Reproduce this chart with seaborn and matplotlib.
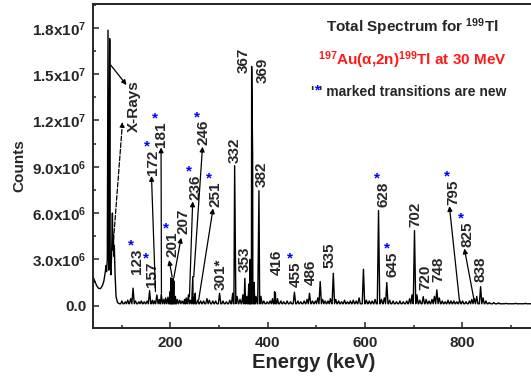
import numpy as np
import pandas as pd
import matplotlib
matplotlib.use("Agg")
import matplotlib.pyplot as plt
from matplotlib.ticker import MultipleLocator, FuncFormatter
import seaborn as sns

# X-ray region, read point by point (keV, counts in units of 1e6)
xray_energy = [41, 44, 48, 52, 56, 60, 63, 65.5, 67.5, 68.5, 70, 71.5, 73, 74, 75,
               76, 77.5, 79, 80.5, 81.5, 82.5, 83.5, 84.5, 86, 88, 91, 95]
xray_counts = [1.85, 1.6, 1.3, 1.12, 1.1, 1.3, 1.6, 2.1, 2.6, 2.2, 3.0, 17.85, 2.3, 3.0, 17.3,
               2.6, 2.0, 3.5, 6.0, 3.6, 4.6, 3.2, 3.9, 2.0, 0.6, 0.2, 0.12]

# gamma lines and small background bumps above the X-rays (keV, counts in 1e6)
peak_energy = [100, 107, 112, 118, 123, 128, 135, 140, 146, 152, 157, 163, 167, 172, 177,
               181, 186, 190, 195, 199, 201, 203, 205, 207, 210, 214, 219, 224, 229, 232,
               237, 241, 246, 249, 251, 256, 262, 268, 275, 280, 287, 293, 301, 308, 315,
               322, 328, 332, 337, 343, 349, 353, 357, 361, 364, 367, 369, 372, 376, 382,
               386, 392, 399, 405, 410, 414, 416, 420, 427, 433, 440, 447, 455, 462, 468,
               475, 481, 486, 492, 498, 503, 508, 513, 518, 524, 529, 535, 540, 546, 552,
               558, 564, 570, 576, 582, 588, 597, 603, 609, 615, 621, 628, 634, 640, 645,
               651, 658, 665, 672, 679, 686, 692, 697, 702, 707, 713, 720, 726, 732, 738,
               743, 748, 753, 759, 765, 771, 777, 783, 789, 795, 801, 808, 815, 820, 825,
               830, 838, 843, 849, 856, 865, 875, 890, 910, 930, 950]
peak_counts = [0.3, 0.25, 0.35, 0.45, 1.13, 0.3, 0.25, 0.3, 0.25, 0.3, 0.97, 0.35, 0.3, 0.69, 0.4,
               0.75, 0.4, 0.5, 0.55, 0.9, 1.8, 1.4, 1.75, 1.6, 0.6, 0.4, 0.35, 0.3, 0.4, 0.5,
               0.7, 0.35, 1.88, 0.5, 0.8, 0.35, 0.3, 0.3, 0.45, 0.35, 0.3, 0.3, 0.8, 0.3, 0.25,
               0.35, 0.8, 9.07, 0.6, 0.4, 0.7, 1.77, 0.6, 1.4, 3.0, 15.5, 9.8, 1.5, 0.6, 7.45,
               0.6, 0.3, 0.25, 0.3, 0.45, 0.9, 0.8, 0.45, 0.3, 0.25, 0.3, 0.25, 0.87, 0.3, 0.25,
               0.3, 0.4, 0.8, 0.3, 0.3, 0.5, 1.56, 0.4, 0.3, 0.3, 0.45, 2.1, 0.4, 0.3, 0.25,
               0.35, 0.25, 0.3, 0.35, 0.3, 0.5, 2.36, 0.35, 0.3, 0.3, 0.4, 6.16, 0.4, 0.5, 1.49,
               0.35, 0.3, 0.25, 0.3, 0.25, 0.3, 0.45, 0.7, 4.86, 0.7, 0.35, 0.58, 0.4, 0.3, 0.4,
               0.6, 1.02, 0.5, 0.3, 0.25, 0.35, 0.3, 0.3, 0.25, 0.35, 0.3, 0.25, 0.3, 0.4, 0.45,
               0.6, 1.23, 0.5, 0.3, 0.2, 0.2, 0.18, 0.15, 0.15, 0.15, 0.15]
baseline = 0.12

# peak labels: text, where the label stands (keV, counts 1e6 at its bottom), new transition?
label_text = ["123", "157", "172", "181", "201", "207", "236", "246", "251", "301*", "332",
              "353", "367", "369", "382", "416", "455", "486", "535", "628", "645", "702",
              "720", "748", "795", "825", "838"]
label_energy = [131.5, 162.3, 163.6, 181.4, 203.4, 227.2, 251.3, 268.3, 293.0, 302.7, 332.0,
                352.6, 350.5, 390.4, 388.3, 417.7, 458.2, 487.6, 527.2, 638.2, 657.5, 703.3,
                723.9, 751.2, 782.0, 811.6, 836.9]
label_bottom = [2.05, 1.21, 8.47, 10.3, 3.16, 4.65, 6.85, 10.4, 6.4, 1.02, 9.23,
                2.18, 15.06, 14.41, 7.71, 1.99, 1.23, 1.34, 2.42, 6.41, 1.88, 5.12,
                1.02, 1.56, 6.52, 3.82, 1.56]
label_new = [True, True, True, True, True, False, True, True, True, False, False,
             False, False, False, False, False, True, False, False, True, True, False,
             False, False, True, True, False]

# arrows from a peak to its label (keV, counts 1e6)
arrow_start = [(169.1, 0.91), (181.4, 0.82), (203.4, 1.86), (206.7, 1.78), (239.0, 0.58),
               (247.8, 1.86), (258.0, 0.37), (794.3, 0.37), (824.5, 0.37)]
arrow_end = [(160.9, 8.4), (180.6, 10.25), (197.2, 2.95), (221.9, 4.4), (245.7, 6.75),
             (265.9, 10.3), (287.6, 6.3), (773.8, 6.45), (804.6, 3.7)]

sns.set_style("ticks")
plt.rcParams["font.family"] = ["Liberation Sans", "DejaVu Sans"]
plt.rcParams["font.weight"] = "bold"
plt.rcParams["axes.labelweight"] = "bold"
plt.rcParams["mathtext.fontset"] = "custom"
plt.rcParams["mathtext.rm"] = "Liberation Sans:bold"
plt.rcParams["mathtext.it"] = "Liberation Sans:bold"
plt.rcParams["mathtext.bf"] = "Liberation Sans:bold"

rows = list(zip(xray_energy, xray_counts))
for e, c in zip(peak_energy, peak_counts):
    rows += [(e - 2.5, baseline), (e, c), (e + 2.5, baseline)]
spec = pd.DataFrame(rows, columns=["energy", "counts"])
spec["counts"] = spec["counts"] * 1e6

fig = plt.figure(figsize=(5.31, 3.76), dpi=100)
ax = fig.add_axes([0.1746, 0.1277, 0.833, 0.8617])
sns.lineplot(data=spec, x="energy", y="counts", estimator=None, sort=True,
             color="black", lw=1.0, ax=ax)

ax.set_xlim(40, 950)
ax.set_ylim(-1.45e6, 1.955e7)
ax.xaxis.set_major_locator(MultipleLocator(200))
ax.xaxis.set_minor_locator(MultipleLocator(100))
ax.yaxis.set_major_locator(MultipleLocator(3e6))
ax.yaxis.set_minor_locator(MultipleLocator(1.5e6))


def sci_fmt(v, pos):
    if abs(v) < 1:
        return "0.0"
    exp = int(np.floor(np.log10(abs(v)) + 1e-9))
    return f"{v / 10**exp:.1f}x10$^{{{exp}}}$"


ax.yaxis.set_major_formatter(FuncFormatter(sci_fmt))
ax.tick_params(which="both", direction="in", width=1.1, labelsize=11)
ax.tick_params(which="major", length=4)
ax.tick_params(which="minor", length=2.5)
ax.tick_params(axis="x", pad=6)
ax.tick_params(axis="y", pad=4.5)
for side in ["left", "bottom", "top"]:
    ax.spines[side].set_linewidth(1.4)
ax.spines["right"].set_visible(False)
ax.set_xlabel("Energy (keV)", fontsize=14.5, labelpad=2)
ax.set_ylabel("Counts", fontsize=11, labelpad=4)

# peak labels, with a blue star for the new transitions
for txt, e, b, new in zip(label_text, label_energy, label_bottom, label_new):
    t = ax.text(e, b * 1e6, txt, rotation=90, ha="center", va="bottom", fontsize=11)
    if new:
        ax.annotate("*", xy=(0, 1), xycoords=t, xytext=(0.5, 2), textcoords="offset points",
                    ha="center", va="center", color="blue", fontsize=11)

for (x0, y0), (x1, y1) in zip(arrow_start, arrow_end):
    ax.annotate("", xy=(x1, y1 * 1e6), xytext=(x0, y0 * 1e6),
                arrowprops=dict(arrowstyle="-|>", lw=0.9, color="black",
                                mutation_scale=7, shrinkA=0, shrinkB=0))

ax.text(125.3, 12.9e6, "X-Rays", rotation=90, ha="center", va="center", fontsize=11)
ax.annotate("", xy=(109.5, 14.3e6), xytext=(76.8, 15.6e6),
            arrowprops=dict(arrowstyle="-|>", lw=0.9, color="black",
                            mutation_scale=7, shrinkA=0, shrinkB=0))
ax.annotate("", xy=(101.3, 11.9e6), xytext=(82.8, 4.26e6),
            arrowprops=dict(arrowstyle="-|>", lw=0.9, color="black", linestyle="--",
                            mutation_scale=7, shrinkA=0, shrinkB=0))

# notes in the upper right
ax.text(0.722, 0.929, "Total Spectrum for $^{199}$Tl", transform=ax.transAxes,
        ha="center", va="center", fontsize=11)
ax.text(0.722, 0.827, "$^{197}$Au(α,2n)$^{199}$Tl at 30 MeV", transform=ax.transAxes,
        ha="center", va="center", fontsize=11, color="#ff1a1a")
note = ax.text(0.512, 0.728, "' marked transitions are new", transform=ax.transAxes,
               ha="left", va="center", fontsize=10)
star = ax.annotate("*", xy=(0, 0.5), xycoords=note, xytext=(0, 1.5), textcoords="offset points",
                   ha="right", va="center", color="blue", fontsize=10)
ax.annotate("'", xy=(0, 0.5), xycoords=star, xytext=(0, -1.5), textcoords="offset points",
            ha="right", va="center", fontsize=10)

fig.savefig("out.png", dpi=100)
